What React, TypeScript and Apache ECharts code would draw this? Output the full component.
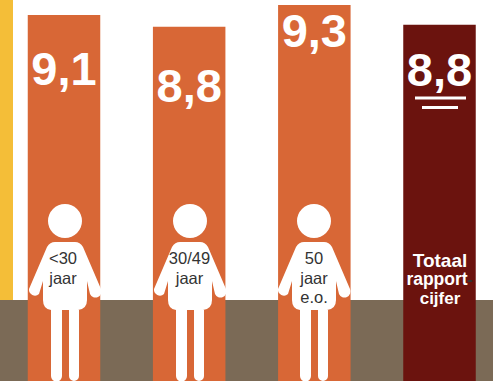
import React, { useEffect, useRef } from "react";
import * as echarts from "echarts";

const categories = ["<30 jaar", "30/49 jaar", "50 jaar e.o.", "Totaal rapportcijfer"];
const valueLabels = ["9,1", "8,8", "9,3", "8,8"];
// drawn bar heights (the source is not exactly to scale)
const barHeights = [9.05, 8.76, 9.3, 8.81];
const labelDistances = [30, 35, 2, 21];
const barColors = ["#D86736", "#D86736", "#D86736", "#6B130E"];
const personTexts = [["<30", "jaar"], ["30/49", "jaar"], ["50", "jaar", "e.o."]];

const PERSON =
  "M-10 21 L10 21 Q15 21 18 26 L36 68 A6 6 0 0 1 25 73 L22 60 L22 79 Q22 88 13 89 " +
  "L14 89 L14 155 A5 5 0 0 1 4 155 L4 89 L-3 89 L-3 155 A5 5 0 0 1 -14 155 L-14 89 " +
  "Q-22 88 -22 79 L-22 60 L-26 73 A6 6 0 0 1 -36 68 L-18 26 Q-15 21 -10 21 Z " +
  "M-17 0 A17 17 0 1 0 17 0 A17 17 0 1 0 -17 0 Z";
echarts.graphic.registerShape("person", echarts.graphic.extendPath(PERSON, {}) as any);

const FONT = "Liberation Sans";

export default function App() {
  const ref = useRef<HTMLDivElement>(null);
  useEffect(() => {
    const chart = echarts.init(ref.current!, undefined, { renderer: "svg" });
    const personX = [65, 190, 314];
    const textX = [63, 189.5, 314];
    const text = (t: string, x: number, y: number, size: number, fill: string, bold = false) => ({
      type: "text",
      x,
      y,
      z: 10,
      style: { text: t, fill, fontSize: size, fontFamily: FONT, fontWeight: bold ? "bold" : "normal", align: "center", verticalAlign: "middle" },
    });
    chart.setOption({
      animation: false,
      backgroundColor: "#ffffff",
      grid: { left: 64, width: 375.5, top: 5, height: 376 },
      xAxis: { type: "category", data: categories, show: false, boundaryGap: false },
      yAxis: { type: "value", min: 0, max: 9.3, show: false, splitLine: { show: false } },
      series: [
        {
          type: "bar",
          z: 5,
          clip: false,
          barWidth: 72.5,
          data: barHeights.map((v, i) => ({
            value: v,
            itemStyle: { color: barColors[i] },
            label: { distance: labelDistances[i] },
          })),
          label: {
            show: true,
            position: "insideTop",
            formatter: (p: any) => valueLabels[p.dataIndex],
            color: "#ffffff",
            fontFamily: FONT,
            fontWeight: "bold",
            fontSize: 47,
          },
        },
      ],
      graphic: [
        { type: "rect", z: -1, shape: { x: 0, y: 0, width: 13, height: 300 }, style: { fill: "#F4BE38" } },
        { type: "rect", z: -1, shape: { x: 0, y: 300, width: 493, height: 81 }, style: { fill: "#7B6A56" } },
        ...personX.map((x) => ({ type: "person", x, y: 221, z: 9, style: { fill: "#ffffff" } })),
        ...personTexts.flatMap((lines, i) =>
          lines.map((l, j) => text(l, textX[i], 258 + j * 19.5, 16.5, "#333333"))
        ),
        text("Totaal", 440, 260, 19, "#ffffff", true),
        text("rapport", 437, 279, 17.5, "#ffffff", true),
        text("-", 470, 279, 16.5, "#333333", true),
        text("cijfer", 440, 298, 17, "#ffffff", true),
        { type: "rect", z: 10, shape: { x: 415, y: 96.5, width: 51, height: 3 }, style: { fill: "#ffffff" } },
        { type: "rect", z: 10, shape: { x: 422, y: 106, width: 36, height: 3 }, style: { fill: "#ffffff" } },
      ],
    });
    return () => chart.dispose();
  }, []);
  return <div ref={ref} style={{ position: "fixed", left: 0, top: 0, width: 493, height: 383 }} />;
}
